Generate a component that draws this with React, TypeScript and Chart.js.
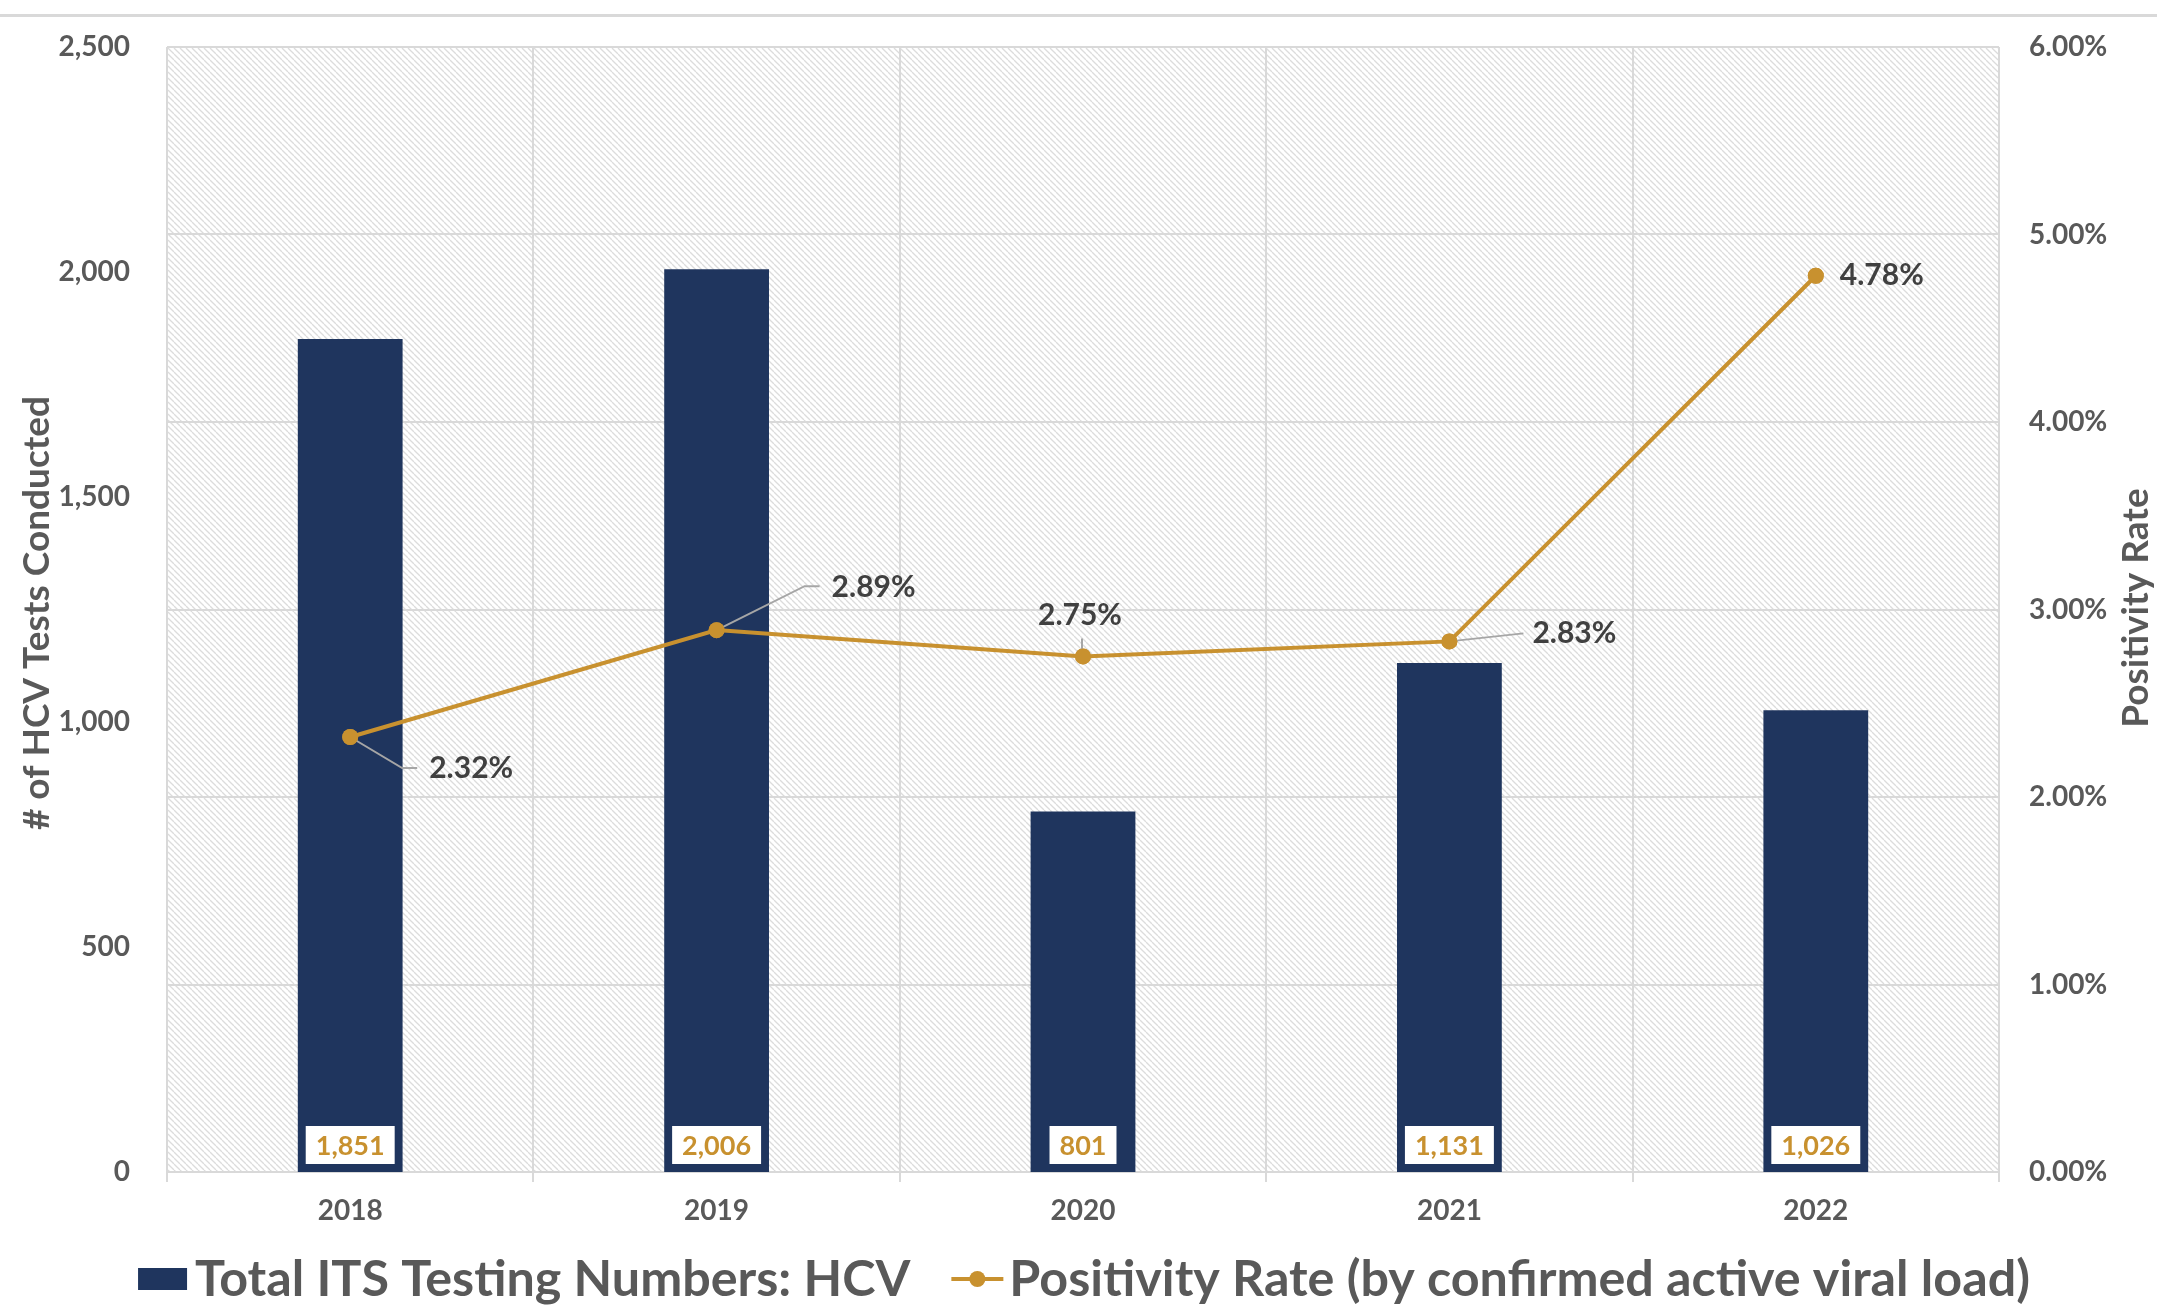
import React, { useEffect, useRef } from "react";
import { Chart, registerables } from "chart.js";

Chart.register(...registerables);

const years = ["2018", "2019", "2020", "2021", "2022"];
const testCounts = [1851, 2006, 801, 1131, 1026];
const positivityRates = [2.32, 2.89, 2.75, 2.83, 4.78];
const countAxisMax = 2500;
const countAxisStep = 500;
const rateAxisMax = 6;
const rateAxisStep = 1;
const barSeriesName = "Total ITS Testing Numbers: HCV";
const lineSeriesName = "Positivity Rate (by confirmed active viral load)";
const leftAxisTitle = "# of HCV Tests Conducted";
const rightAxisTitle = "Positivity Rate";

// label placement styles (pixel offsets from point): dx, dy, align, leader path
const rateLabelStyles = [
  { dx: 79, dy: 31, align: "left", leader: [[0, 0], [52, 31], [67, 31]] },
  { dx: 115, dy: -43, align: "left", leader: [[0, 0], [88, -44], [103, -44]] },
  { dx: -3, dy: -41, align: "center", leader: [[-1, -18], [-1, -4]] },
  { dx: 83, dy: -8, align: "left", leader: [[0, 0], [74, -8]] },
  { dx: 24, dy: 0, align: "left", leader: null },
];

const NAVY = "#1F355E";
const GOLD = "#C8912F";
const AXIS_TEXT = "#595959";
const LABEL_TEXT = "#404040";
const GRID = "#D9D9D9";
const FONT = "Lato, 'Open Sans', sans-serif";

const W = 2157;
const H = 1307;
const AREA = { left: 167, right: 1999, top: 47, bottom: 1172 };

const decorPlugin = {
  id: "decor",
  beforeDraw(chart: any) {
    const { ctx, chartArea: a } = chart;
    ctx.save();
    ctx.fillStyle = "#ffffff";
    ctx.fillRect(0, 0, chart.width, chart.height);
    const s = 6;
    const tile = document.createElement("canvas");
    tile.width = s;
    tile.height = s;
    const t = tile.getContext("2d")!;
    t.fillStyle = "#ffffff";
    t.fillRect(0, 0, s, s);
    t.strokeStyle = "#dcdcdc";
    t.lineWidth = 1.3;
    for (const c of [-s, 0, s]) {
      t.beginPath();
      t.moveTo(0, c);
      t.lineTo(s, s + c);
      t.stroke();
    }
    ctx.fillStyle = ctx.createPattern(tile, "repeat");
    ctx.fillRect(a.left, a.top, a.right - a.left, a.bottom - a.top);
    ctx.fillStyle = GRID;
    ctx.fillRect(0, 14, chart.width, 3);
    ctx.restore();
  },
  afterDatasetsDraw(chart: any) {
    const { ctx } = chart;
    ctx.save();
    // bar value labels
    const barMeta = chart.getDatasetMeta(0);
    ctx.font = `bold 27px ${FONT}`;
    ctx.textAlign = "center";
    ctx.textBaseline = "middle";
    barMeta.data.forEach((el: any, i: number) => {
      const text = testCounts[i].toLocaleString("en-US");
      const tw = ctx.measureText(text).width;
      const bw = tw + 20;
      const bh = 38;
      const bottom = el.base - 8;
      ctx.fillStyle = "#ffffff";
      ctx.fillRect(el.x - bw / 2, bottom - bh, bw, bh);
      ctx.fillStyle = GOLD;
      ctx.fillText(text, el.x, bottom - bh / 2 + 1);
    });
    // line value labels
    const lineMeta = chart.getDatasetMeta(1);
    lineMeta.data.forEach((el: any, i: number) => {
      const st = rateLabelStyles[i];
      if (st.leader) {
        ctx.strokeStyle = "#A6A6A6";
        ctx.lineWidth = 2;
        ctx.beginPath();
        st.leader.forEach((p: number[], k: number) => {
          if (k === 0) ctx.moveTo(el.x + p[0], el.y + p[1]);
          else ctx.lineTo(el.x + p[0], el.y + p[1]);
        });
        ctx.stroke();
      }
    });
    // redraw points over leader lines
    lineMeta.data.forEach((el: any) => {
      ctx.fillStyle = GOLD;
      ctx.beginPath();
      ctx.arc(el.x, el.y, 8, 0, Math.PI * 2);
      ctx.fill();
    });
    ctx.font = `bold 30px ${FONT}`;
    lineMeta.data.forEach((el: any, i: number) => {
      const st = rateLabelStyles[i];
      ctx.fillStyle = LABEL_TEXT;
      ctx.textAlign = st.align;
      ctx.textBaseline = "middle";
      ctx.fillText(positivityRates[i].toFixed(2) + "%", el.x + st.dx, el.y + st.dy);
    });
    ctx.restore();
  },
  afterDraw(chart: any) {
    const { ctx } = chart;
    ctx.save();
    ctx.fillStyle = AXIS_TEXT;
    ctx.textAlign = "center";
    ctx.textBaseline = "middle";
    ctx.font = `bold 37px ${FONT}`;
    ctx.translate(37, 613);
    ctx.rotate(-Math.PI / 2);
    ctx.fillText(leftAxisTitle, 0, 0);
    ctx.restore();

    ctx.save();
    ctx.fillStyle = AXIS_TEXT;
    ctx.textAlign = "center";
    ctx.textBaseline = "middle";
    ctx.font = `bold 37px ${FONT}`;
    ctx.translate(2136, 608);
    ctx.rotate(-Math.PI / 2);
    ctx.fillText(rightAxisTitle, 0, 0);
    ctx.restore();

    // legend
    ctx.save();
    const baseSize = 44;
    const fixedParts = 49 + 8 + 41 + 52 + 6;
    ctx.font = `bold ${baseSize}px ${FONT}`;
    const rawText =
      ctx.measureText(barSeriesName).width + ctx.measureText(lineSeriesName).width;
    const size = (baseSize * (1892 - fixedParts)) / rawText;
    ctx.font = `bold ${size}px ${FONT}`;
    const w1 = ctx.measureText(barSeriesName).width;
    const w2 = ctx.measureText(lineSeriesName).width;
    const total = fixedParts + w1 + w2;
    let x = 1084 - total / 2;
    const y = 1279;
    ctx.fillStyle = NAVY;
    ctx.fillRect(x, y - 11, 49, 22);
    x += 57;
    ctx.fillStyle = AXIS_TEXT;
    ctx.textAlign = "left";
    ctx.textBaseline = "middle";
    ctx.fillText(barSeriesName, x, y + 1);
    x += w1 + 41;
    ctx.strokeStyle = GOLD;
    ctx.lineWidth = 4;
    ctx.beginPath();
    ctx.moveTo(x, y);
    ctx.lineTo(x + 52, y);
    ctx.stroke();
    ctx.fillStyle = GOLD;
    ctx.beginPath();
    ctx.arc(x + 26, y, 8, 0, Math.PI * 2);
    ctx.fill();
    x += 58;
    ctx.fillStyle = AXIS_TEXT;
    ctx.fillText(lineSeriesName, x, y + 1);
    ctx.restore();
  },
};

export default function App() {
  const ref = useRef<HTMLCanvasElement | null>(null);
  useEffect(() => {
    if (!ref.current) return;
    const tickFont = { family: FONT, size: 28, weight: "bold" as const };
    const chart = new Chart(ref.current, {
      type: "bar",
      data: {
        labels: years,
        datasets: [
          {
            type: "bar",
            label: barSeriesName,
            data: testCounts,
            backgroundColor: NAVY,
            yAxisID: "y",
            barPercentage: 0.286,
            categoryPercentage: 1,
            order: 2,
          },
          {
            type: "line",
            label: lineSeriesName,
            data: positivityRates,
            borderColor: GOLD,
            backgroundColor: GOLD,
            borderWidth: 4,
            pointRadius: 8,
            pointBackgroundColor: GOLD,
            pointBorderWidth: 0,
            tension: 0,
            yAxisID: "y1",
            order: 1,
          } as any,
        ],
      },
      options: {
        responsive: false,
        animation: false,
        layout: { padding: { top: AREA.top, left: 0, right: 0, bottom: 0 } },
        plugins: { legend: { display: false }, tooltip: { enabled: false } },
        scales: {
          x: {
            offset: true,
            grid: { offset: true, color: GRID, lineWidth: 2, tickLength: 10, drawTicks: true },
            border: { display: false },
            ticks: { color: AXIS_TEXT, font: tickFont, padding: 12 },
            afterFit: (s: any) => {
              s.height = H - AREA.bottom;
            },
          },
          y: {
            position: "left",
            min: 0,
            max: countAxisMax,
            grid: { display: false },
            border: { display: false },
            ticks: {
              stepSize: countAxisStep,
              color: AXIS_TEXT,
              font: tickFont,
              padding: 29,
              callback: (v: any) => Number(v).toLocaleString("en-US"),
            },
            afterFit: (s: any) => {
              s.width = AREA.left;
            },
          },
          y1: {
            position: "right",
            min: 0,
            max: rateAxisMax,
            grid: { color: GRID, lineWidth: 2, drawTicks: false },
            border: { display: false },
            ticks: {
              stepSize: rateAxisStep,
              color: AXIS_TEXT,
              font: tickFont,
              padding: 30,
              callback: (v: any) => Number(v).toFixed(2) + "%",
            },
            afterFit: (s: any) => {
              s.width = W - AREA.right;
            },
          },
        },
      },
      plugins: [decorPlugin],
    });
    return () => chart.destroy();
  }, []);
  return (
    <div style={{ position: "fixed", left: 0, top: 0, width: W, height: H, background: "#fff" }}>
      <canvas ref={ref} width={W} height={H} style={{ display: "block", width: W, height: H }} />
    </div>
  );
}
